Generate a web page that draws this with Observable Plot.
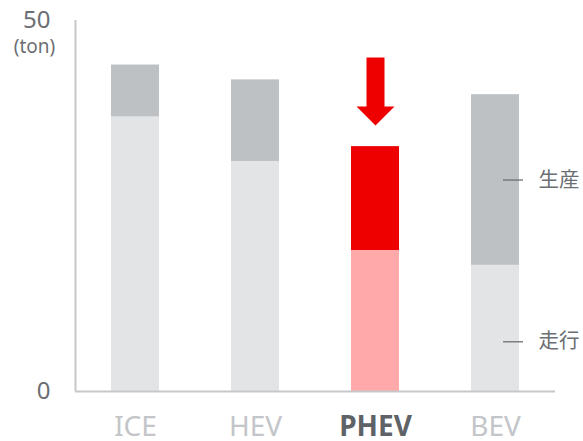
<!DOCTYPE html>
<html>
<head>
<meta charset="utf-8">
<script src="https://cdn.jsdelivr.net/npm/d3@7"></script>
<script src="https://cdn.jsdelivr.net/npm/@observablehq/plot@0.6"></script>
<style>
  html, body { margin: 0; padding: 0; background: #fff; }
  #chart { width: 583px; height: 441px; }
</style>
</head>
<body>
<div id="chart"></div>
<script>
// ---- data ----
const categories = ["ICE", "HEV", "PHEV", "BEV"];
const driving = [37, 31, 19, 17];      // 走行 (ton)
const production = [7, 11, 14, 23];    // 生産 (ton)
const phases = ["走行", "生産"];
const highlight = "PHEV";
const yTicks = [0, 50];
const unitLabel = "(ton)";

// ---- table built from the arrays ----
const rows = [];
categories.forEach((c, i) => {
  rows.push({cat: c, phase: phases[0], value: driving[i]});
  rows.push({cat: c, phase: phases[1], value: production[i]});
});

const palette = {
  normal: {"走行": "#e3e4e6", "生産": "#bec1c4"},
  highlight: {"走行": "#ffa9ab", "生産": "#ee0000"}
};

const axisGray = "#c6c8ca";
const textGray = "#6b6f73";
const lightLabel = "#c3c5c8";
const font = "'Noto Sans', 'Noto Sans CJK JP', sans-serif";

// BEV label anchors: middle of its production segment, lower part of driving
const bevIdx = categories.indexOf("BEV");
const legendRows = [
  {text: phases[1], y: driving[bevIdx] + production[bevIdx] / 2},
  {text: phases[0], y: 6.7}
];

// down-arrow symbol (shaft + head), drawn from its top
const arrowSymbol = {
  draw(ctx) {
    ctx.moveTo(-9, 0); ctx.lineTo(9, 0); ctx.lineTo(9, 49);
    ctx.lineTo(19, 49); ctx.lineTo(0, 68); ctx.lineTo(-19, 49);
    ctx.lineTo(-9, 49); ctx.closePath();
  }
};

const chart = Plot.plot({
  width: 583,
  height: 441,
  marginLeft: 75,
  marginRight: 28,
  marginTop: 20,
  marginBottom: 50,
  style: {fontFamily: font, background: "#fff", overflow: "visible"},
  x: {type: "band", domain: categories, paddingInner: 0.6, paddingOuter: 0.3, axis: null},
  y: {domain: [0, 50], axis: null},
  color: {type: "identity"},
  marks: [
    Plot.barY(rows, {
      x: "cat", y: "value",
      fill: d => (d.cat === highlight ? palette.highlight : palette.normal)[d.phase]
    }),
    // axes lines
    Plot.ruleY([0], {stroke: axisGray, strokeWidth: 2}),
    Plot.ruleX([categories[0]], {dx: -60, y1: 0, y2: 50, stroke: axisGray, strokeWidth: 2}),
    // y tick labels
    Plot.text(yTicks, {y: d => d, text: d => String(d), frameAnchor: "left", dx: -25,
      textAnchor: "end", fontSize: 24, fill: textGray}),
    Plot.text([unitLabel], {y: yTicks[1], text: d => d, frameAnchor: "left", dx: -41, dy: 26,
      textAnchor: "middle", fontSize: 19, fill: textGray}),
    // x category labels
    Plot.text(categories.filter(c => c !== highlight), {x: d => d, text: d => d,
      frameAnchor: "bottom", lineAnchor: "top", dy: 25, fontSize: 28, fill: lightLabel}),
    Plot.text([highlight], {x: d => d, text: d => d,
      frameAnchor: "bottom", lineAnchor: "top", dy: 25, fontSize: 28, fontWeight: "bold", fill: "#5f6367"}),
    // phase labels next to BEV: leader dash + text
    Plot.tickY(legendRows, {x: () => "BEV", y: "y", insetLeft: 32, insetRight: -4,
      stroke: textGray, strokeWidth: 1.3}),
    Plot.text(legendRows, {x: () => "BEV", y: "y", text: "text", dx: 43, textAnchor: "start",
      fontSize: 20.5, fill: textGray, fontFamily: "'Noto Sans CJK JP', sans-serif"}),
    // highlight arrow above PHEV
    Plot.dot([highlight], {x: d => d, y: () => 45, symbol: arrowSymbol, fill: "#ee0000", stroke: "none"})
  ]
});
document.getElementById("chart").appendChild(chart);
</script>
</body>
</html>
